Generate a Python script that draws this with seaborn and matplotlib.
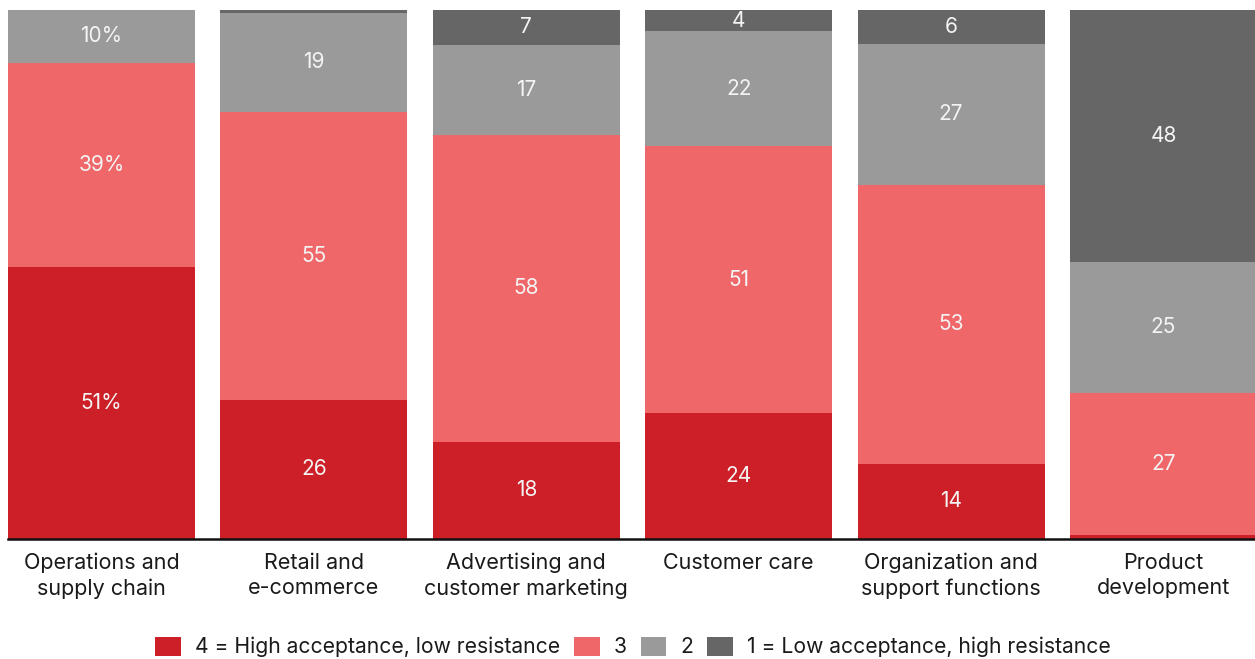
import numpy as np
import pandas as pd
import matplotlib
matplotlib.use("Agg")
import matplotlib.pyplot as plt
import seaborn as sns
from matplotlib.patches import Patch

categories = ["Operations and\nsupply chain", "Retail and\ne-commerce", "Advertising and\ncustomer marketing",
              "Customer care", "Organization and\nsupport functions", "Product\ndevelopment"]
level4 = [51.4, 26.3, 18.4, 23.8, 14.2, 0.7]
level3 = [38.6, 54.5, 58.0, 50.5, 52.7, 26.9]
level2 = [10.0, 18.6, 17.0, 21.7, 26.7, 24.8]
level1 = [0.0, 0.6, 6.6, 4.0, 6.4, 47.6]
series_names = ["4 = High acceptance, low resistance", "3", "2", "1 = Low acceptance, high resistance"]
colors = ["#CC1F27", "#F0676A", "#9A9A9A", "#666666"]

sns.set_theme(style="white")
plt.rcParams['font.family'] = ['Inter', 'DejaVu Sans']

fig = plt.figure(figsize=(12.55, 6.59), dpi=100)
ax = fig.add_axes([8/1255, 120/659, 1249/1255, 529/659])

layers = [level4, level3, level2, level1]
cum = np.cumsum(np.array(layers), axis=0)
df = pd.DataFrame({"cat": categories})
# draw from top cumulative down so each layer shows
for i in range(3, -1, -1):
    df["val"] = cum[i]
    sns.barplot(data=df, x="cat", y="val", color=colors[i], saturation=1, width=0.88,
                ax=ax, linewidth=0, order=categories)

# value labels
for j in range(len(categories)):
    bottom = 0
    for i, layer in enumerate(layers):
        v = layer[j]
        if v >= 3:
            n = int(np.floor(v + 0.5))
            txt = f"{n}%" if j == 0 else f"{n}"
            ax.text(j, bottom + v / 2, txt, ha="center", va="center", color="#F4F4F4", fontsize=15)
        bottom += v

ax.set_xlim(-0.44, 5.44)
ax.set_ylim(0, 100)
ax.set_xlabel("")
ax.set_ylabel("")
ax.set_yticks([])
for s in ["top", "right", "left"]:
    ax.spines[s].set_visible(False)
ax.spines["bottom"].set_color("#111111")
ax.spines["bottom"].set_linewidth(1.8)
ax.tick_params(axis="x", length=0, pad=10, labelsize=15.5, labelcolor="#1a1a1a")
for lbl in ax.get_xticklabels():
    lbl.set_linespacing(1.32)

handles = [Patch(facecolor=c, edgecolor="none") for c in colors]
fig.legend(handles, series_names, loc="center", bbox_to_anchor=(633/1255, 1 - 647/659), ncol=4,
           frameon=False, fontsize=15.2, handlelength=1.2, handleheight=1.05, handletextpad=0.67,
           columnspacing=0.67, labelcolor="#1a1a1a")

fig.savefig("out.png", dpi=100)
